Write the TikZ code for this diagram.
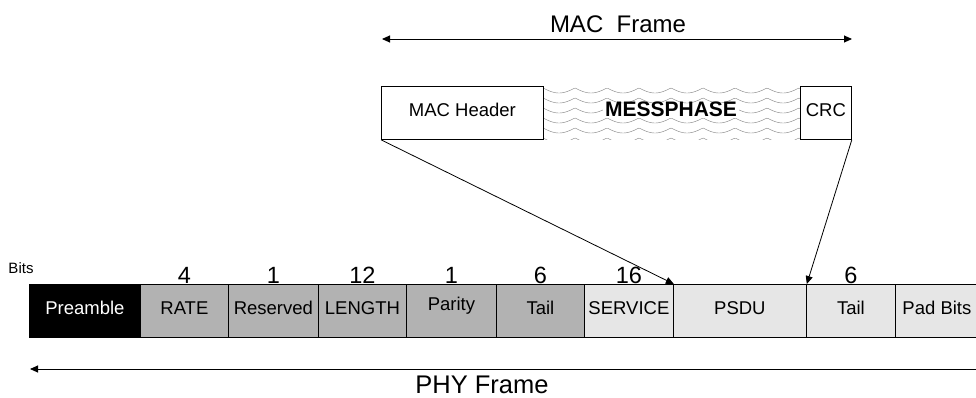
\documentclass[tikz,border=0pt]{standalone}
\usepackage{fontspec}
\setmainfont{Liberation Sans}
\usetikzlibrary{arrows.meta}
\definecolor{darkcell}{RGB}{178,178,178}
\definecolor{lightcell}{RGB}{230,230,230}
\definecolor{wavegray}{RGB}{140,140,140}
\begin{document}
\begin{tikzpicture}[x=1pt,y=-1pt,
  cell/.style={draw=black, line width=0.8pt, minimum height=53pt, inner sep=0pt,
    anchor=north west, text height=0.72em, text depth=0pt, font=\fontsize{18.5}{20}\selectfont},
  macbox/.style={draw=black, line width=0.8pt, fill=white, minimum height=53pt, inner sep=0pt,
    anchor=north west, text height=0.72em, text depth=0pt, font=\fontsize{18.5}{20}\selectfont},
  num/.style={anchor=base, inner sep=0pt, font=\fontsize{23.5}{25}\selectfont},
  conn/.style={line width=0.8pt, -{Triangle[length=8pt,width=7pt]}},
  span/.style={line width=0.9pt, {Triangle[length=8pt,width=7pt]}-{Triangle[length=8pt,width=7pt]}},
  wave/.style={wavegray, line width=0.45pt},
  lbl/.style={inner sep=0pt}
]
\useasboundingbox (0,0) rectangle (976,397);
\clip (0,0) rectangle (976,397);
\fill[white] (0,0) rectangle (976,397);

% MAC frame arrow
\coordinate (mfl) at (382,39);
\coordinate (mfr) at (852,39);
\draw[span] (mfl) -- (mfr);
\node[lbl, anchor=base, font=\fontsize{24}{26}\selectfont] (maclbl) at (618,32) {MAC\ \ Frame};

% waves
\begin{scope}
  \clip (543,86) rectangle (800,139);
  \foreach \r in {0,...,5}
    \draw[wave] plot[domain=0:257, samples=240] ({543+\x}, {88+\r*10 + 5*abs(sin(5.625*\x))});
\end{scope}
\node[fill=white, inner sep=2pt, text height=0.72em, text depth=0pt, font=\bfseries\fontsize{21}{23}\selectfont] (mess) at (671,112.5) {MESSPHASE};

% MAC boxes
\node[macbox, minimum width=162pt] (mach) at (381,86) {MAC Header};
\node[macbox, minimum width=51pt] (crc) at (800,86) {CRC};

% PHY cells
\node[cell, fill=black, text=white, minimum width=111pt] (pre) at (29,284) {Preamble};
\node[cell, fill=darkcell, minimum width=88pt] (rate) at (140,284) {RATE};
\node[cell, fill=darkcell, minimum width=90pt] (resv) at (228,284) {Reserved};
\node[cell, fill=darkcell, minimum width=88pt] (len) at (318,284) {LENGTH};
\node[cell, fill=darkcell, minimum width=90pt] (par) at (406,284) {\raisebox{4pt}{Parity}};
\node[cell, fill=darkcell, minimum width=88pt] (tail1) at (496,284) {Tail};
\node[cell, fill=lightcell, minimum width=89pt] (serv) at (584,284) {SERVICE};
\node[cell, fill=lightcell, minimum width=133pt] (psdu) at (673,284) {PSDU};
\node[cell, fill=lightcell, minimum width=89pt] (tail2) at (806,284) {Tail};
\node[cell, fill=lightcell, minimum width=100pt] (pad) at (895,284) {\hspace*{-17pt}Pad Bits};

% bit counts
\node[lbl, font=\fontsize{15}{17}\selectfont] (bits) at (21,268) {Bits};
\node[num] (n1) at ([yshift=1pt]rate.north) {4};
\node[num] (n2) at ([yshift=1pt]resv.north) {1};
\node[num] (n3) at ([yshift=1pt]len.north) {12};
\node[num] (n4) at ([yshift=1pt]par.north) {1};
\node[num] (n5) at ([yshift=1pt]tail1.north) {6};
\node[num] (n6) at ([yshift=1pt]serv.north) {16};
\node[num] (n7) at ([yshift=1pt]tail2.north) {6};

% connectors
\draw[conn] (mach.south west) -- (serv.north east);
\draw[conn] (crc.south east) -- (psdu.north east);

% PHY frame arrow
\coordinate (pfl) at (30,369);
\coordinate (pfr) at (984,369);
\draw[span] (pfl) -- (pfr);
\node[lbl, anchor=base, font=\fontsize{25.5}{27}\selectfont] (phylbl) at (482,393) {PHY Frame};
\end{tikzpicture}
\end{document}
